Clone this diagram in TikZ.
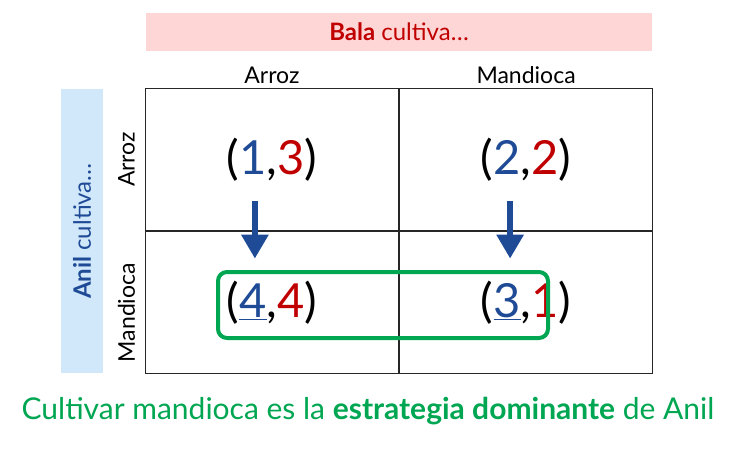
\documentclass[tikz,border=0pt]{standalone}
\usepackage{fontspec}
\setmainfont{Lato}
\usepackage{tikz}
\usetikzlibrary{matrix,calc,positioning,arrows.meta}
\usepackage{color}
\definecolor{anilblue}{RGB}{31,75,150}
\definecolor{balared}{RGB}{192,0,0}
\definecolor{nashgreen}{RGB}{0,166,81}
\definecolor{balapink}{RGB}{255,214,214}
\definecolor{anilband}{RGB}{208,232,250}

\begin{document}
\begin{tikzpicture}[x=1pt,y=-1pt,
	cell/.style={draw=black!85,line width=1.2pt,outer sep=0pt,inner sep=0pt,minimum width=253pt,minimum height=142pt,font=\fontsize{47}{50}\selectfont},
	strat/.style={font=\fontsize{23}{26}\selectfont,inner sep=1pt},
	dom/.style={anilblue,line width=6pt,-{Triangle[width=26pt,length=24pt]}},
	nash/.style={nashgreen,line width=4pt,rounded corners=9pt}]

\useasboundingbox (0,0) rectangle (740,452);

\node (bala) [fill=balapink,minimum width=506pt,minimum height=38pt,text=balared,font=\fontsize{24}{26}\selectfont] at (399,32) {\textbf{Bala} cultiva…};
\node (anil) [fill=anilband,minimum width=283pt,minimum height=42pt,text=anilblue,rotate=90,font=\fontsize{24}{26}\selectfont] at (82,231) {\textbf{Anil} cultiva…};

\matrix (mA) [matrix of nodes,nodes={cell},column sep=0pt,row sep=0pt] at (399,231)
{
	(\textcolor{anilblue}{1},\textcolor{balared}{3})   &   (\textcolor{anilblue}{2},\textcolor{balared}{2})   \\
	(\textcolor{anilblue}{\underline{4}},\textcolor{balared}{4})   &   (\textcolor{anilblue}{\underline{3}},\textcolor{balared}{1})   \\
};

\node (colA) [strat,above=4pt of mA-1-1] {Arroz};
\node (colM) [strat,above=4pt of mA-1-2] {Mandioca};
\node (rowA) [strat,rotate=90] at ([xshift=-19pt]mA-1-1.west) {Arroz};
\node (rowM) [strat,rotate=90] at ([xshift=-19pt,yshift=-10pt]mA-2-1.west) {Mandioca};

\draw[dom] ([xshift=-17pt,yshift=-42pt]mA-1-1.center) -- ([xshift=-17pt,yshift=44pt]mA-2-1.center);
\draw[dom] ([xshift=-16pt,yshift=-42pt]mA-1-2.center) -- ([xshift=-16pt,yshift=44pt]mA-2-2.center);

\draw[nash] (218,272) rectangle (548,338);

\node (concl) [text=nashgreen,font=\fontsize{30}{33}\selectfont] at (368,411) {Cultivar mandioca es la \textbf{estrategia dominante} de Anil};

%\pagebreak

\end{tikzpicture}
\end{document}
